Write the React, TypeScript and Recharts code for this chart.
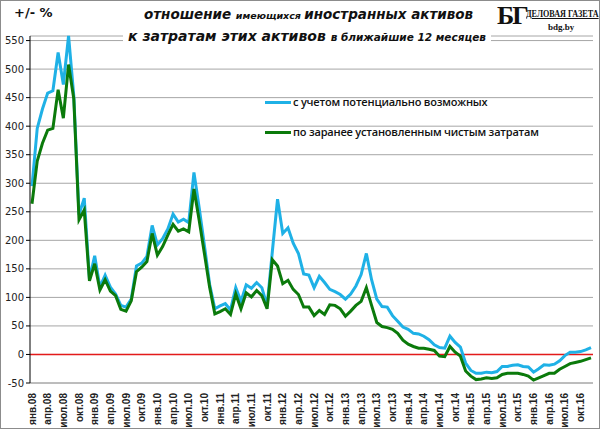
import { LineChart, Line, XAxis, YAxis, CartesianGrid, ReferenceLine } from "recharts";

// monthly, Jan 2008 .. Dec 2016
const monthNames = ["янв", "фев", "мар", "апр", "май", "июн", "июл", "авг", "сен", "окт", "ноя", "дек"];
const years = ["08", "09", "10", "11", "12", "13", "14", "15", "16"];

// с учетом потенциально возможных
const potential = [
  295, 396, 430, 458, 462, 529, 473, 558, 453, 245, 274, 132,
  173, 118, 139, 118, 106, 86, 83, 97, 155, 160, 172, 226,
  192, 203, 220, 246, 232, 237, 231, 319, 257, 191, 123, 80,
  85, 89, 78, 117, 93, 122, 116, 126, 117, 85, 180, 272,
  212, 222, 195, 177, 141, 139, 117, 137, 126, 114, 110, 105,
  97, 106, 120, 140, 177, 131, 97, 84, 83, 68, 58, 48,
  44, 37, 36, 32, 26, 17, 12, 11, 32, 21, 13, -15,
  -28, -33, -33, -31, -32, -30, -21, -21, -19, -18, -21, -22,
  -31, -25, -18, -19, -17, -11, -2, 4, 4, 5, 8, 12,
];

// по заранее установленным чистым затратам
const fixedCosts = [
  264, 339, 370, 393, 396, 464, 414, 508, 448, 236, 253, 129,
  159, 113, 131, 111, 103, 79, 76, 94, 145, 153, 163, 212,
  174, 189, 209, 228, 216, 220, 215, 290, 235, 177, 118, 71,
  75, 80, 70, 106, 80, 108, 101, 112, 103, 80, 166, 155,
  124, 130, 114, 105, 83, 83, 68, 77, 70, 87, 86, 80,
  67, 76, 86, 93, 117, 86, 56, 49, 47, 44, 37, 25,
  18, 14, 11, 11, 9, 7, -3, -4, 14, 4, -3, -29,
  -38, -44, -43, -41, -42, -41, -35, -33, -33, -33, -35, -38,
  -45, -41, -37, -33, -33, -26, -21, -16, -14, -12, -9, -6,
];

const yTicks = [-50, 0, 50, 100, 150, 200, 250, 300, 350, 400, 450, 500, 550];

const labels = years.flatMap(y => monthNames.map(m => `${m}.${y}`));
const data = labels.map((label, i) => ({ label, potential: potential[i], fixedCosts: fixedCosts[i] }));

const BLUE = "#1fb1e6";
const GREEN = "#0b7a0b";

const MonthTick = ({ x, y, payload }: any) => (
  <text
    x={x}
    y={y + 2}
    transform={`rotate(-90, ${x}, ${y + 2})`}
    textAnchor="end"
    dominantBaseline="central"
    fontFamily="Liberation Sans, Arial, sans-serif"
    fontWeight="bold"
    fontSize={10}
    fill="#222"
  >
    {payload.value}
  </text>
);

export default function App() {
  return (
    <div style={{ position: "relative", width: 600, height: 429, boxSizing: "border-box", border: "1px solid #8c8c8c", background: "#fff", overflow: "hidden" }}>
      <style>{`body{margin:0}`}</style>
      <div style={{ position: "absolute", left: -1, top: -1 }}>
        <LineChart width={600} height={429} data={data} margin={{ top: 36, right: 7, bottom: 0, left: 0 }}>
          <CartesianGrid vertical={false} stroke="#a6a6a6" strokeWidth={1} />
          <XAxis
            dataKey="label"
            interval={2}
            height={46}
            padding={{ left: 2, right: 2 }}
            axisLine={{ stroke: "#a6a6a6" }}
            tickLine={false}
            tick={<MonthTick />}
          />
          <YAxis
            domain={[-50, 550]}
            ticks={yTicks}
            width={30}
            axisLine={{ stroke: "#000" }}
            tickLine={{ stroke: "#000" }}
            tickSize={4}
            tick={{ fontSize: 10, fill: "#222", fontFamily: "DejaVu Sans, sans-serif" }}
            interval={0}
          />
          <ReferenceLine y={0} stroke="#e31a1a" strokeWidth={1.5} />
          <Line type="linear" dataKey="potential" stroke={BLUE} strokeWidth={3} dot={false} isAnimationActive={false} />
          <Line type="linear" dataKey="fixedCosts" stroke={GREEN} strokeWidth={3} dot={false} isAnimationActive={false} />
        </LineChart>
      </div>

      {/* unit label */}
      <div style={{ position: "absolute", left: 13, top: 4, fontFamily: "DejaVu Sans, sans-serif", fontWeight: "bold", fontSize: 13, color: "#111" }}>
        +/-&nbsp;%
      </div>

      {/* title */}
      <div style={{ position: "absolute", left: 143, top: 4, whiteSpace: "nowrap", fontFamily: "DejaVu Sans, sans-serif", fontWeight: "bold", fontStyle: "italic", color: "#111", lineHeight: "17px" }}>
        <span style={{ fontSize: 13.5 }}>отношение </span>
        <span style={{ fontSize: 9.5 }}>имеющихся </span>
        <span style={{ fontSize: 13.5 }}>иностранных активов</span>
      </div>
      <div style={{ position: "absolute", left: 122, top: 26, whiteSpace: "nowrap", fontFamily: "DejaVu Sans, sans-serif", fontWeight: "bold", fontStyle: "italic", color: "#111", lineHeight: "18px", background: "#fff", padding: "0 5px" }}>
        <span style={{ fontSize: 14 }}>к затратам этих активов </span>
        <span style={{ fontSize: 10.5 }}>в ближайшие 12 месяцев</span>
      </div>

      {/* logo */}
      <div style={{ position: "absolute", left: 496, top: 1, fontFamily: "Liberation Serif, serif", fontWeight: "bold", fontSize: 26, color: "#111", lineHeight: "28px", letterSpacing: -2 }}>
        БГ
      </div>
      <div style={{ position: "absolute", left: 525, top: 6, fontFamily: "Liberation Serif, serif", fontWeight: "bold", fontSize: 11, color: "#111", textDecoration: "underline", whiteSpace: "nowrap", transform: "scaleX(0.74)", transformOrigin: "left top" }}>
        ДЕЛОВАЯ ГАЗЕТА
      </div>
      <div style={{ position: "absolute", left: 547, top: 21, fontFamily: "Liberation Serif, serif", fontWeight: "bold", fontSize: 9, color: "#111" }}>
        bdg.by
      </div>

      {/* legend */}
      {[
        { name: "с учетом потенциально возможных", color: BLUE, top: 93 },
        { name: "по заранее установленным чистым затратам", color: GREEN, top: 123 },
      ].map(item => (
        <div key={item.name} style={{ position: "absolute", left: 264, top: item.top, display: "flex", alignItems: "center", whiteSpace: "nowrap" }}>
          <span style={{ display: "inline-block", width: 26, height: 3, background: item.color, marginRight: 2 }} />
          <span style={{ fontFamily: "Open Sans, sans-serif", fontWeight: 600, fontSize: 11, color: "#111", lineHeight: "16px", letterSpacing: -0.2 }}>{item.name}</span>
        </div>
      ))}
    </div>
  );
}
